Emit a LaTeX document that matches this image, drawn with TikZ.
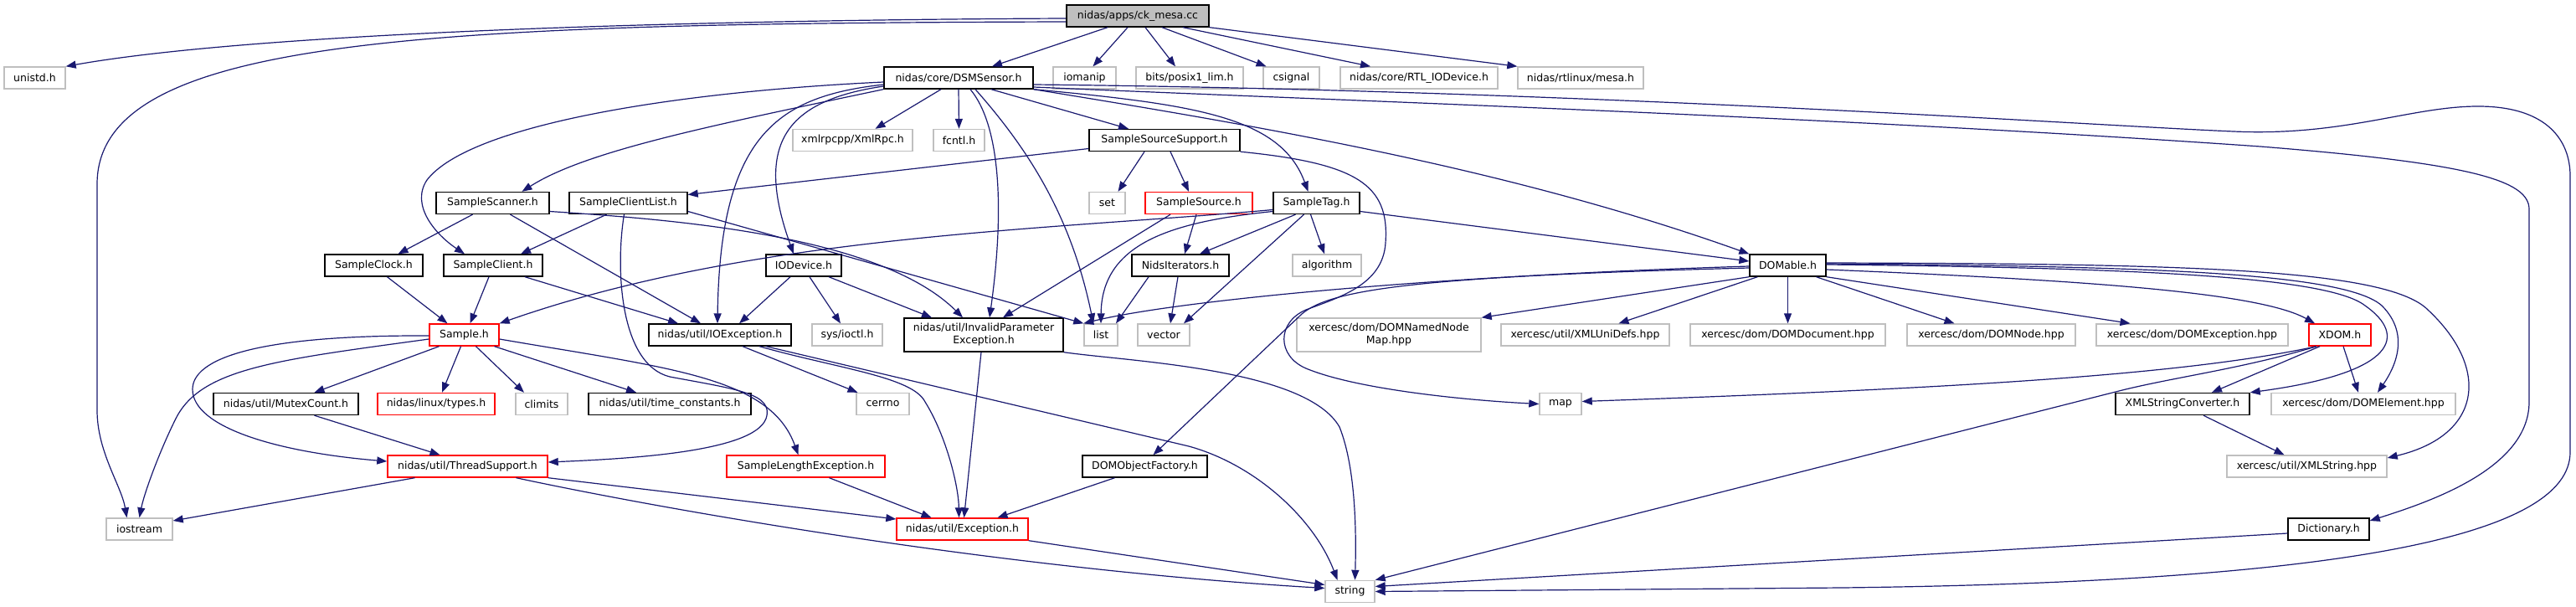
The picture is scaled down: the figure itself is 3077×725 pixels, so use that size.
\documentclass[tikz,border=0pt]{standalone}
\usepackage{fontspec}
\setmainfont{DejaVu Sans}
\usetikzlibrary{arrows.meta}
\definecolor{edgec}{RGB}{25,25,112}
\definecolor{graybd}{RGB}{191,191,191}
\begin{document}
\begin{tikzpicture}[x=1pt,y=-1pt]
\tikzset{
  nb/.style={draw, line width=1.4pt, inner sep=0pt, minimum height=26pt, font=\fontsize{12.5}{15}\selectfont, align=center},
  blk/.style={nb, draw=black},
  gry/.style={nb, draw=graybd},
  rd/.style={nb, draw=red},
  rootn/.style={nb, draw=black, fill=graybd},
  edg/.style={draw=edgec, line width=1.2pt, -{Triangle[length=12pt,width=9pt]}}
}
\fill[white] (0,0) rectangle (3077,725);
\useasboundingbox (0,0) rectangle (3077,725);

% nodes
\node[rootn, minimum width=170pt] (root) at (1359,19) {nidas/apps/ck\_mesa.cc};
\node[gry, minimum width=73pt] (unistd) at (41.5,93) {unistd.h};
\node[blk, minimum width=178pt] (dsm) at (1145,93) {nidas/core/DSMSensor.h};
\node[gry, minimum width=75pt] (iomanip) at (1295.5,93) {iomanip};
\node[gry, minimum width=128pt] (posix) at (1421,93) {bits/posix1\_lim.h};
\node[gry, minimum width=67pt] (csignal) at (1542.5,93) {csignal};
\node[gry, minimum width=188pt] (rtl) at (1695,93) {nidas/core/RTL\_IODevice.h};
\node[gry, minimum width=150pt] (mesa) at (1888,93) {nidas/rtlinux/mesa.h};
\node[gry, minimum width=143pt] (xmlrpc) at (1018.5,167.5) {xmlrpcpp/XmlRpc.h};
\node[gry, minimum width=61pt] (fcntl) at (1145.5,167.5) {fcntl.h};
\node[blk, minimum width=180pt] (sss) at (1391,167.5) {SampleSourceSupport.h};
\node[blk, minimum width=135pt] (scanner) at (588.5,242.5) {SampleScanner.h};
\node[blk, minimum width=141pt] (scl) at (750.5,242.5) {SampleClientList.h};
\node[gry, minimum width=43pt] (set) at (1322.5,242.5) {set};
\node[rd, minimum width=128pt] (ssrc) at (1432,242.5) {SampleSource.h};
\node[blk, minimum width=103pt] (tag) at (1572.5,242.5) {SampleTag.h};
\node[blk, minimum width=117pt] (clock) at (446.5,317) {SampleClock.h};
\node[blk, minimum width=118pt] (client) at (589,317) {SampleClient.h};
\node[blk, minimum width=90pt] (iodev) at (960,317) {IODevice.h};
\node[blk, minimum width=116pt] (nids) at (1410,317) {NidsIterators.h};
\node[gry, minimum width=82pt] (algorithm) at (1585,317) {algorithm};
\node[blk, minimum width=91pt] (domable) at (2135.5,317) {DOMable.h};
\node[rd, minimum width=83pt] (sample) at (554.5,400) {Sample.h};
\node[blk, minimum width=170pt] (ioexc) at (860,400) {nidas/util/IOException.h};
\node[gry, minimum width=84pt] (ioctl) at (1012,400) {sys/ioctl.h};
\node[blk, minimum width=190pt, minimum height=40pt] (inval) at (1175,400) {nidas/util/InvalidParameter\\Exception.h};
\node[gry, minimum width=40pt] (list) at (1315,400) {list};
\node[gry, minimum width=62pt] (vector) at (1390,400) {vector};
\node[gry, minimum width=220pt, minimum height=40pt] (namednode) at (1659,400) {xercesc/dom/DOMNamedNode\\Map.hpp};
\node[gry, minimum width=201pt] (unidefs) at (1893.5,400) {xercesc/util/XMLUniDefs.hpp};
\node[gry, minimum width=233pt] (domdoc) at (2135.5,400) {xercesc/dom/DOMDocument.hpp};
\node[gry, minimum width=201pt] (domnode) at (2378.5,400) {xercesc/dom/DOMNode.hpp};
\node[gry, minimum width=229pt] (domexc) at (2618.5,400) {xercesc/dom/DOMException.hpp};
\node[rd, minimum width=74pt] (xdom) at (2795,400) {XDOM.h};
\node[blk, minimum width=173pt] (mutex) at (341.5,482.5) {nidas/util/MutexCount.h};
\node[rd, minimum width=140pt] (types) at (521,482.5) {nidas/linux/types.h};
\node[gry, minimum width=62pt] (climits) at (647,482.5) {climits};
\node[blk, minimum width=194pt] (timec) at (800,482.5) {nidas/util/time\_constants.h};
\node[gry, minimum width=63pt] (cerrno) at (1054.5,482.5) {cerrno};
\node[gry, minimum width=50pt] (map) at (1864,482.5) {map};
\node[blk, minimum width=160pt] (xsc) at (2607,482.5) {XMLStringConverter.h};
\node[gry, minimum width=220pt] (domelem) at (2823,482.5) {xercesc/dom/DOMElement.hpp};
\node[rd, minimum width=191pt] (thread) at (558.5,557) {nidas/util/ThreadSupport.h};
\node[rd, minimum width=189pt] (sle) at (962.5,557) {SampleLengthException.h};
\node[blk, minimum width=149pt] (domof) at (1367.5,557) {DOMObjectFactory.h};
\node[gry, minimum width=191pt] (xmlstring) at (2755.5,557) {xercesc/util/XMLString.hpp};
\node[gry, minimum width=79pt] (iostream) at (166.5,632) {iostream};
\node[rd, minimum width=157pt] (exc) at (1149.5,632) {nidas/util/Exception.h};
\node[blk, minimum width=97pt] (dict) at (2781.5,632) {Dictionary.h};
\node[gry, minimum width=59pt] (string) at (1612.5,706.5) {string};

% root edges
\draw[edg] ([yshift=-3pt]root.west) .. controls (800,24) and (300,40) .. (unistd.north east);
\draw[edg] ([yshift=-7pt]root.west) .. controls (500,28) and (116,45) .. (116,220) -- (116,490) .. controls (116,540) and (145,580) .. ([xshift=-15pt]iostream.north);
\draw[edg] ([xshift=-36pt]root.south) -- ([xshift=40pt]dsm.north);
\draw[edg] ([xshift=-12pt]root.south) -- ([xshift=10pt]iomanip.north);
\draw[edg] ([xshift=9pt]root.south) -- ([xshift=-17pt]posix.north);
\draw[edg] ([xshift=29pt]root.south) -- ([xshift=-30pt]csignal.north);
\draw[edg] ([xshift=54pt]root.south) -- ([xshift=-58pt]rtl.north);
\draw[edg] (root.south east) -- (mesa.north west);

% DSMSensor edges
\draw[edg] ([xshift=-21pt]dsm.south) -- ([xshift=27pt]xmlrpc.north);
\draw[edg] (dsm.south) -- (fcntl.north);
\draw[edg] ([xshift=39pt]dsm.south) -- ([xshift=-43pt]sss.north);
\draw[edg] (dsm.south east) .. controls (1430,125) and (1530,140) .. ([xshift=-10pt]tag.north);
\draw[edg] (dsm.south east) .. controls (1500,150) and (1800,200) .. (domable.north west);
\draw[edg] ([xshift=20pt]dsm.south) .. controls (1230,180) and (1280,260) .. ([xshift=-9pt]list.north);
\draw[edg] ([xshift=14pt]dsm.south) .. controls (1195,150) and (1200,250) .. ([xshift=7pt]inval.north);
\draw[edg] ([yshift=-8pt]dsm.west) .. controls (930,115) and (860,160) .. ([xshift=-3pt]ioexc.north);
\draw[edg] ([yshift=-10pt]dsm.west) .. controls (940,120) and (900,170) .. ([xshift=-12pt]iodev.north);
\draw[edg] ([yshift=-5pt]dsm.west) .. controls (800,110) and (560,150) .. (510,215) .. controls (490,245) and (520,280) .. ([xshift=-34pt]client.north);
\draw[edg] (dsm.south west) .. controls (850,150) and (700,180) .. ([xshift=35pt]scanner.north);
\draw[edg] ([yshift=-11pt]dsm.east) .. controls (1600,120) and (2200,140) .. (2700,175) .. controls (2950,195) and (3021,215) .. (3021,250) -- (3021,480) .. controls (3021,560) and (2900,600) .. ([yshift=10pt]dict.east);
\draw[edg] ([yshift=-8pt]dsm.east) .. controls (1900,108) and (2500,150) .. (2668,157) .. controls (2800,163) and (2880,127) .. (2960,127) .. controls (3045,127) and (3070,170) .. (3070,210) -- (3070,540) .. controls (3070,640) and (2800,695) .. (2200,702) -- (string.east);

% SampleScanner, SampleClientList, SampleClock, SampleClient, IODevice
\draw[edg] ([xshift=-24pt]scanner.south) -- ([xshift=29pt]clock.north);
\draw[edg] ([xshift=21pt]scanner.south) -- ([xshift=-23pt]ioexc.north);
\draw[edg] ([yshift=-10pt]scanner.east) .. controls (800,262) and (1050,280) .. ([xshift=-25pt]inval.north);
\draw[edg] ([xshift=-26pt]scl.south) -- ([xshift=33pt]client.north);
\draw[edg] ([xshift=-5pt]scl.south) .. controls (735,320) and (740,435) .. (800,450) .. controls (880,465) and (925,470) .. (915,500) .. controls (900,540) and (750,548) .. ([yshift=5pt]thread.east);
\draw[edg] ([yshift=-10pt]scl.east) -- (list.north west);
\draw[edg] ([xshift=16pt]clock.south) -- ([xshift=-20pt]sample.north);
\draw[edg] ([xshift=-5pt]client.south) -- ([xshift=7pt]sample.north);
\draw[edg] ([xshift=38pt]client.south) -- ([xshift=-50pt]ioexc.north);
\draw[edg] ([xshift=-16pt]iodev.south) -- ([xshift=23pt]ioexc.north);
\draw[edg] ([xshift=7pt]iodev.south) -- ([xshift=-8pt]ioctl.north);
\draw[edg] ([xshift=30pt]iodev.south) -- ([xshift=-62pt]inval.north);

% SampleSourceSupport, SampleSource, SampleTag, NidsIterators
\draw[edg] ([yshift=-10pt]sss.west) -- ([yshift=10pt]scl.east);
\draw[edg] ([xshift=-24pt]sss.south) -- ([xshift=13pt]set.north);
\draw[edg] ([xshift=7pt]sss.south) -- ([xshift=-12pt]ssrc.north);
\draw[edg] (sss.south east) .. controls (1620,195) and (1660,220) .. (1655,290) .. controls (1652,340) and (1600,355) .. (1560,370) .. controls (1525,385) and (1525,425) .. (1560,440) .. controls (1620,465) and (1750,478) .. (map.west);
\draw[edg] ([xshift=-3pt]ssrc.south) -- ([xshift=5pt]nids.north);
\draw[edg] ([xshift=-34pt]ssrc.south) -- ([xshift=23pt]inval.north);
\draw[edg] ([xshift=-25pt]tag.south) -- ([xshift=23pt]nids.north);
\draw[edg] ([xshift=-7pt]tag.south) -- ([xshift=-3pt]algorithm.north);
\draw[edg] ([xshift=-15pt]tag.south) -- ([xshift=24pt]vector.north);
\draw[edg] ([yshift=-10pt]tag.west) .. controls (1400,265) and (1316,290) .. (list.north);
\draw[edg] ([yshift=-8pt]tag.west) .. controls (1250,275) and (900,280) .. (sample.north east);
\draw[edg] ([yshift=-10pt]tag.east) -- ([yshift=5pt]domable.west);
\draw[edg] ([xshift=-38pt]nids.south) -- ([xshift=18pt]list.north);
\draw[edg] ([xshift=-3pt]nids.south) -- ([xshift=8pt]vector.north);

% DOMable
\draw[edg] ([yshift=-1pt]domable.west) .. controls (1700,330) and (1400,360) .. (list.north west);
\draw[edg] ([yshift=-3pt]domable.west) .. controls (1700,330) and (1590,345) .. (1555,375) -- ([xshift=10pt]domof.north);
\draw[edg] (domable.south west) -- (namednode.north east);
\draw[edg] ([xshift=10pt]domable.south west) -- ([xshift=40pt]unidefs.north);
\draw[edg] (domable.south) -- (domdoc.north);
\draw[edg] ([xshift=34pt]domable.south) -- ([xshift=-44pt]domnode.north);
\draw[edg] (domable.south east) -- ([xshift=-74pt]domexc.north);
\draw[edg] ([yshift=-5pt]domable.east) .. controls (2500,335) and (2700,350) .. ([xshift=-30pt]xdom.north);
\draw[edg] ([yshift=1pt]domable.east) .. controls (2550,320) and (2780,330) .. (2825,365) .. controls (2875,400) and (2865,445) .. (xsc.north east);
\draw[edg] ([yshift=2pt]domable.east) .. controls (2560,318) and (2800,325) .. (2845,365) .. controls (2880,400) and (2860,440) .. ([xshift=17pt]domelem.north);
\draw[edg] ([yshift=3pt]domable.east) .. controls (2600,315) and (2850,320) .. (2900,370) .. controls (2975,440) and (2965,520) .. ([yshift=10pt]xmlstring.east);

% XDOM, XMLStringConverter, Dictionary
\draw[edg] ([xshift=-28pt]xdom.south) .. controls (2600,450) and (2300,465) .. ([yshift=3pt]map.east);
\draw[edg] ([xshift=-28pt]xdom.south) .. controls (2680,440) and (2600,450) .. (2535,466) -- (string.north east);
\draw[edg] ([xshift=-24pt]xdom.south) -- ([xshift=35pt]xsc.north);
\draw[edg] ([xshift=4pt]xdom.south) -- ([xshift=-6pt]domelem.north);
\draw[edg] ([xshift=25pt]xsc.south) -- ([xshift=-27pt]xmlstring.north);
\draw[edg] ([yshift=-5pt]dict.west) -- ([yshift=6pt]string.east);

% Sample.h
\draw[edg] ([xshift=-30pt]sample.south) -- ([xshift=34pt]mutex.north);
\draw[edg] ([xshift=-4pt]sample.south) -- ([xshift=7pt]types.north);
\draw[edg] ([xshift=14pt]sample.south) -- ([xshift=-21pt]climits.north);
\draw[edg] ([xshift=36pt]sample.south) -- ([xshift=-40pt]timec.north);
\draw[edg] ([yshift=-1pt]sample.west) .. controls (300,400) and (230,430) .. (230,465) .. controls (230,510) and (330,540) .. ([yshift=6pt]thread.west);
\draw[edg] ([yshift=-5pt]sample.west) .. controls (330,430) and (240,440) .. (210,500) .. controls (190,540) and (172,590) .. (iostream.north);
\draw[edg] ([yshift=-5pt]sample.east) .. controls (800,440) and (920,450) .. ([xshift=-9pt]sle.north);

% lower part
\draw[edg] ([xshift=34pt]mutex.south) -- ([xshift=-33pt]thread.north);
\draw[edg] ([xshift=-63pt]thread.south) -- ([yshift=10pt]iostream.east);
\draw[edg] (thread.south east) -- ([yshift=12pt]exc.west);
\draw[edg] ([xshift=58pt]thread.south) .. controls (800,610) and (1200,680) .. ([yshift=4pt]string.west);
\draw[edg] ([xshift=28pt]sle.south) -- ([xshift=-37pt]exc.north);
\draw[edg] ([xshift=27pt]ioexc.south) -- ([xshift=-30pt]cerrno.north);
\draw[edg] ([xshift=47pt]ioexc.south) .. controls (1000,440) and (1090,450) .. (1105,480) .. controls (1130,520) and (1145,580) .. ([xshift=-4pt]exc.north);
\draw[edg] ([xshift=55pt]ioexc.south) -- (1420,533) .. controls (1500,555) and (1570,620) .. ([xshift=-15pt]string.north);
\draw[edg] ([xshift=-3pt]inval.south) -- ([xshift=2pt]exc.north);
\draw[edg] (inval.south east) .. controls (1350,432) and (1560,440) .. (1600,510) .. controls (1620,560) and (1620,640) .. ([xshift=6pt]string.north);
\draw[edg] ([xshift=-36pt]domof.south) -- ([xshift=42pt]exc.north);
\draw[edg] (exc.south east) -- ([yshift=8pt]string.west);
\end{tikzpicture}
\end{document}
